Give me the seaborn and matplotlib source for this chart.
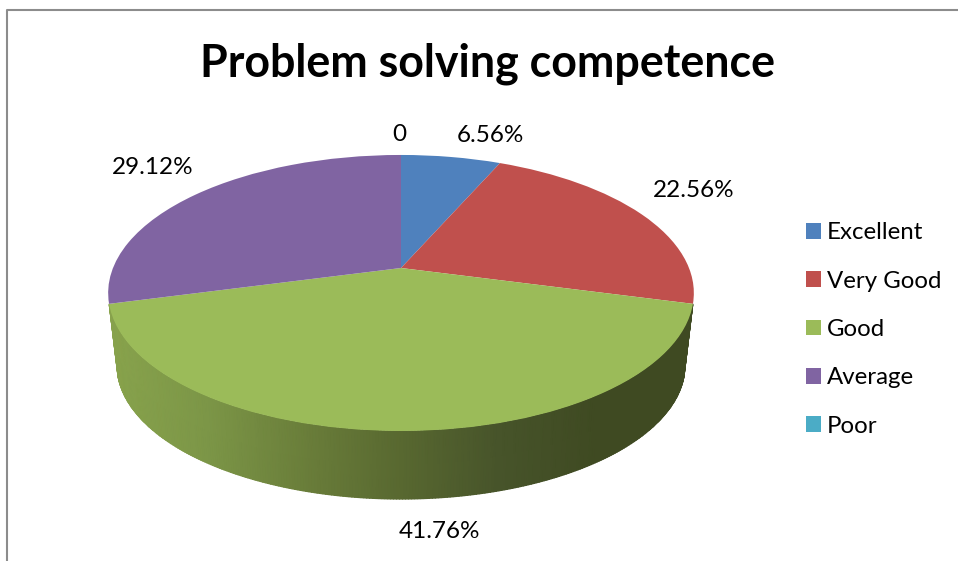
import numpy as np
import matplotlib
matplotlib.use("Agg")
import matplotlib.pyplot as plt
from matplotlib.transforms import Transform
import seaborn as sns

# values from the chart
categories = ["Excellent", "Very Good", "Good", "Average", "Poor"]
shares = [6.56, 22.56, 41.76, 29.12, 0]
value_labels = ["6.56%", "22.56%", "41.76%", "29.12%", "0"]
colors = ["#4F81BD", "#C0504D", "#9BBB59", "#8064A2", "#4BACC6"]
title = "Problem solving competence"

# label centres in pixels, same order as value_labels
label_pos = [(490, 135), (694, 190), (439, 532), (153, 167), (399, 134)]

# geometry of the tilted pie, in pixels
CX, CY = 401, 268
TILT = 0.181
WIDTH = 288
HEIGHT = 133.5
DEPTH = 73
BOTTOM_SCALE = 0.97

wall_colors = ["#88A34C", "#7C9647", "#6A7E3A", "#586830", "#47542A", "#3F4A22", "#3F4A22"]


def project(x, y, scale=1.0, drop=0.0):
    """Map unit-circle pie coordinates to tilted pixel coordinates."""
    d = 1 + TILT * y
    return CX + scale * WIDTH * x / d, CY + drop - scale * HEIGHT * y / d


class TiltTransform(Transform):
    input_dims = 2
    output_dims = 2
    is_affine = False

    def transform_non_affine(self, values):
        values = np.asarray(values)
        px, py = project(values[:, 0], values[:, 1])
        return np.column_stack([px, py])


sns.set_theme(style="white")
plt.rcParams["font.family"] = ["Lato", "DejaVu Sans"]

fig = plt.figure(figsize=(9.58, 5.61), dpi=100)
ax = fig.add_axes([0, 0, 1, 1])

wedges, _ = ax.pie(shares, colors=colors, startangle=90, counterclock=False,
                   wedgeprops={"linewidth": 0})
ax.set_aspect("auto")
ax.set_xlim(0, 958)
ax.set_ylim(561, 0)
ax.axis("off")

tilt = TiltTransform() + ax.transData
for w in wedges:
    w.set_transform(tilt)
    w.set_zorder(3)

# side wall of the Good slice, shaded left to right
good_start = sum(shares[:2]) / sum(shares) * 2 * np.pi
good_end = sum(shares[:3]) / sum(shares) * 2 * np.pi
theta = np.linspace(good_start, good_end, 300)
top_x, top_y = project(np.sin(theta), np.cos(theta))
low_x, low_y = project(np.sin(theta), np.cos(theta), BOTTOM_SCALE, DEPTH)
mesh_x = np.vstack([top_x, low_x])
mesh_y = np.vstack([top_y, low_y])
wall_cmap = sns.blend_palette(wall_colors, as_cmap=True)
ax.pcolormesh(mesh_x, mesh_y, mesh_x, cmap=wall_cmap, vmin=110, vmax=694,
              shading="gouraud", zorder=2)

# chart border, only top and left are visible
ax.plot([7.5, 7.5, 958], [561, 10, 10], color="#8C8C8C", lw=1.5, zorder=1)

ax.text(488, 64, title, fontsize=32.2, fontweight="bold", color="black",
        ha="center", va="center")

for text, (x, y) in zip(value_labels, label_pos):
    ax.text(x, y, text, fontsize=17.5, color="black", ha="center", va="center")

ax.legend(wedges, categories, loc="upper left", bbox_to_anchor=(787, 203),
          bbox_transform=ax.transData, frameon=False, fontsize=17.3,
          handlelength=0.63, handleheight=0.63, handletextpad=0.24,
          labelspacing=1.14, labelcolor="black", borderpad=0.3)

fig.savefig("out.png", dpi=100, facecolor="white")
